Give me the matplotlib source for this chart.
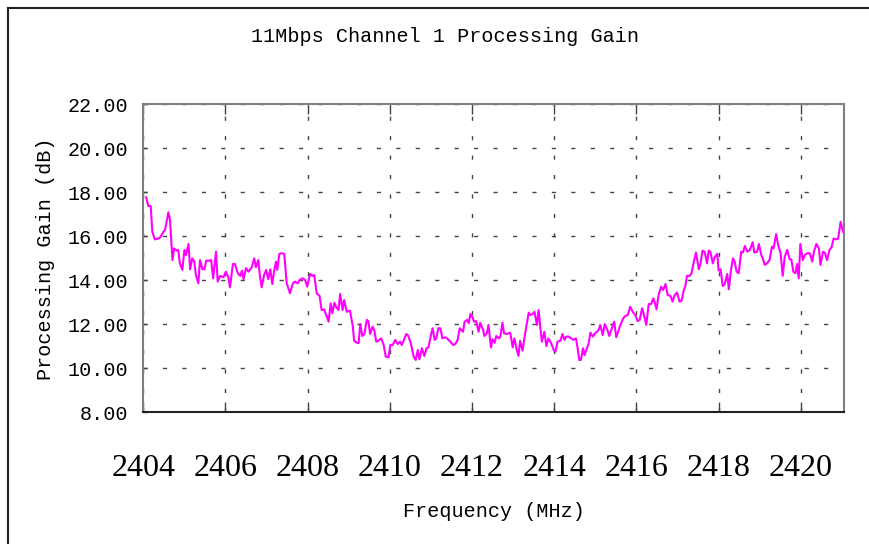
import matplotlib
matplotlib.use("Agg")
import matplotlib.pyplot as plt
from matplotlib.lines import Line2D
from matplotlib.ticker import FormatStrFormatter

# frequency (MHz) and processing gain (dB)
freq = [
    2404.07, 2404.12, 2404.18, 2404.22, 2404.28, 2404.37, 2404.42, 2404.49, 2404.53, 2404.61,
    2404.65, 2404.71, 2404.75, 2404.81, 2404.85, 2404.89, 2404.95, 2405.00, 2405.04, 2405.10,
    2405.14, 2405.19, 2405.24, 2405.28, 2405.34, 2405.38, 2405.44, 2405.49, 2405.53, 2405.60,
    2405.65, 2405.70, 2405.77, 2405.81, 2405.87, 2405.95, 2406.01, 2406.07, 2406.11, 2406.18,
    2406.23, 2406.30, 2406.36, 2406.40, 2406.44, 2406.50, 2406.56, 2406.64, 2406.70, 2406.74,
    2406.80, 2406.84, 2406.88, 2406.94, 2406.99, 2407.04, 2407.09, 2407.14, 2407.18, 2407.23,
    2407.26, 2407.31, 2407.37, 2407.43, 2407.49, 2407.57, 2407.64, 2407.69, 2407.76, 2407.80,
    2407.88, 2407.94, 2407.99, 2408.06, 2408.12, 2408.16, 2408.22, 2408.29, 2408.34, 2408.40,
    2408.47, 2408.51, 2408.56, 2408.60, 2408.65, 2408.69, 2408.75, 2408.79, 2408.85, 2408.89,
    2408.95, 2409.03, 2409.10, 2409.13, 2409.20, 2409.24, 2409.28, 2409.33, 2409.38, 2409.44,
    2409.48, 2409.52, 2409.58, 2409.62, 2409.67, 2409.72, 2409.79, 2409.85, 2409.90, 2409.97,
    2410.01, 2410.07, 2410.13, 2410.19, 2410.25, 2410.29, 2410.35, 2410.40, 2410.45, 2410.51,
    2410.58, 2410.63, 2410.68, 2410.72, 2410.78, 2410.84, 2410.89, 2410.94, 2411.00, 2411.04,
    2411.09, 2411.13, 2411.18, 2411.23, 2411.28, 2411.35, 2411.39, 2411.47, 2411.54, 2411.59,
    2411.65, 2411.70, 2411.74, 2411.78, 2411.82, 2411.88, 2411.92, 2411.96, 2412.01, 2412.05,
    2412.10, 2412.16, 2412.20, 2412.27, 2412.30, 2412.36, 2412.40, 2412.46, 2412.50, 2412.55,
    2412.59, 2412.65, 2412.69, 2412.74, 2412.78, 2412.85, 2412.93, 2412.99, 2413.03, 2413.08,
    2413.13, 2413.17, 2413.23, 2413.28, 2413.32, 2413.38, 2413.42, 2413.47, 2413.52, 2413.58,
    2413.62, 2413.66, 2413.70, 2413.76, 2413.81, 2413.86, 2413.92, 2413.99, 2414.03, 2414.08,
    2414.15, 2414.20, 2414.25, 2414.29, 2414.35, 2414.42, 2414.47, 2414.53, 2414.57, 2414.61,
    2414.65, 2414.70, 2414.74, 2414.78, 2414.84, 2414.88, 2414.94, 2414.98, 2415.04, 2415.08,
    2415.12, 2415.18, 2415.23, 2415.29, 2415.34, 2415.41, 2415.46, 2415.51, 2415.57, 2415.61,
    2415.68, 2415.73, 2415.79, 2415.85, 2415.91, 2415.97, 2416.03, 2416.08, 2416.14, 2416.19,
    2416.24, 2416.30, 2416.36, 2416.41, 2416.44, 2416.49, 2416.54, 2416.60, 2416.65, 2416.71,
    2416.76, 2416.83, 2416.88, 2416.93, 2416.99, 2417.05, 2417.10, 2417.15, 2417.19, 2417.23,
    2417.30, 2417.34, 2417.40, 2417.45, 2417.52, 2417.56, 2417.61, 2417.66, 2417.72, 2417.76,
    2417.80, 2417.86, 2417.91, 2417.97, 2418.00, 2418.05, 2418.10, 2418.15, 2418.21, 2418.25,
    2418.29, 2418.35, 2418.39, 2418.44, 2418.49, 2418.55, 2418.59, 2418.64, 2418.70, 2418.76,
    2418.83, 2418.87, 2418.94, 2418.98, 2419.04, 2419.09, 2419.12, 2419.18, 2419.24, 2419.30,
    2419.34, 2419.40, 2419.45, 2419.51, 2419.56, 2419.61, 2419.67, 2419.73, 2419.77, 2419.82,
    2419.87, 2419.91, 2419.95, 2419.99, 2420.05, 2420.10, 2420.16, 2420.22, 2420.28, 2420.32,
    2420.38, 2420.44, 2420.48, 2420.54, 2420.59, 2420.64, 2420.70, 2420.75, 2420.80, 2420.86,
    2420.91, 2420.97, 2421.03,
]
gain = [
    17.77, 17.38, 17.38, 16.20, 15.86, 15.90, 15.97, 16.20, 16.30, 17.09,
    16.74, 14.92, 15.45, 15.35, 15.38, 14.77, 14.47, 15.38, 15.15, 15.65,
    14.50, 15.00, 14.85, 14.24, 13.86, 14.92, 14.50, 14.50, 14.89, 14.89,
    14.92, 14.09, 15.30, 13.94, 14.20, 14.14, 14.39, 14.14, 13.68, 14.74,
    14.74, 14.32, 14.20, 14.44, 14.05, 14.55, 14.39, 14.59, 15.00, 14.59,
    14.92, 14.17, 13.68, 14.24, 14.47, 14.05, 14.50, 13.83, 14.39, 14.85,
    14.47, 15.20, 15.23, 15.20, 13.86, 13.41, 13.86, 13.94, 13.86, 14.01,
    14.09, 14.01, 13.71, 14.29, 14.20, 14.24, 13.41, 13.29, 12.65, 12.68,
    12.32, 12.12, 12.95, 12.50, 12.98, 12.80, 12.65, 13.38, 12.65, 13.10,
    12.57, 12.62, 11.89, 11.25, 11.16, 11.14, 12.01, 11.47, 11.56, 12.20,
    12.12, 11.56, 11.89, 11.74, 11.21, 11.25, 11.36, 11.06, 10.53, 10.50,
    11.06, 11.06, 11.29, 11.10, 11.21, 11.06, 11.32, 11.56, 11.47, 11.14,
    10.53, 10.38, 10.83, 10.41, 10.91, 10.56, 10.91, 10.95, 11.51, 11.82,
    11.29, 11.36, 11.82, 11.82, 11.36, 11.41, 11.36, 11.21, 11.06, 11.10,
    11.29, 11.82, 11.74, 11.66, 12.12, 12.20, 12.05, 12.47, 12.32, 12.12,
    12.15, 11.66, 12.07, 11.74, 11.47, 11.59, 11.97, 10.95, 11.32, 11.16,
    11.47, 11.36, 11.44, 12.07, 11.59, 11.56, 11.62, 10.95, 11.36, 10.91,
    10.56, 11.25, 10.80, 11.44, 11.89, 12.53, 12.42, 12.47, 12.57, 11.97,
    12.65, 11.89, 11.21, 11.66, 11.01, 11.36, 11.16, 10.83, 10.75, 11.21,
    11.25, 11.56, 11.29, 11.44, 11.44, 11.36, 11.29, 11.36, 10.91, 10.38,
    10.38, 10.91, 10.60, 10.83, 11.14, 11.62, 11.44, 11.56, 11.66, 11.74,
    11.97, 11.51, 12.01, 11.77, 11.47, 11.86, 12.12, 11.41, 11.74, 11.97,
    12.27, 12.38, 12.42, 12.80, 12.57, 12.42, 12.15, 12.20, 12.73, 12.38,
    11.97, 12.92, 12.92, 13.18, 13.03, 12.68, 13.33, 13.71, 13.56, 13.83,
    13.33, 13.29, 13.03, 13.33, 13.44, 13.03, 13.07, 13.53, 13.71, 14.20,
    14.20, 14.32, 14.85, 15.26, 14.50, 14.77, 15.35, 15.30, 14.77, 15.35,
    15.30, 14.77, 15.07, 15.20, 14.44, 14.50, 13.74, 13.83, 14.29, 13.59,
    14.32, 15.00, 14.85, 14.39, 14.32, 15.30, 15.26, 15.56, 15.30, 15.38,
    15.73, 15.26, 15.30, 15.65, 15.15, 14.92, 14.70, 14.77, 14.92, 15.53,
    15.45, 16.10, 15.60, 15.23, 14.20, 15.07, 15.38, 14.95, 14.95, 14.39,
    14.32, 14.74, 14.09, 15.65, 14.92, 15.15, 15.23, 15.23, 14.85, 15.30,
    15.65, 15.45, 14.70, 15.30, 15.23, 14.92, 15.38, 15.50, 15.90, 15.86,
    15.90, 16.66, 16.20,
]

x_ticks = [2404, 2406, 2408, 2410, 2412, 2414, 2416, 2418, 2420]
y_ticks = [8, 10, 12, 14, 16, 18, 20, 22]

mono = "Liberation Mono"

fig = plt.figure(figsize=(8.69, 5.44), dpi=100)
ax = fig.add_axes([0.1649, 0.2421, 0.8067, 0.5662])

ax.plot(freq, gain, color="#ff00ff", lw=1.5)

ax.set_xlim(2404, 2421.06)
ax.set_ylim(8, 22)
ax.set_xticks(x_ticks)
ax.set_yticks(y_ticks)
ax.yaxis.set_major_formatter(FormatStrFormatter("%.2f"))

ax.grid(True, color="#444444", lw=1.0, linestyle=(0, (3, 11)))

ax.tick_params(axis="x", direction="in", length=7, width=1, color="#444444",
               top=True, pad=30)
ax.tick_params(axis="y", direction="in", length=3, width=1, color="#444444", pad=11)
for lab in ax.get_xticklabels():
    lab.set_fontfamily("Liberation Serif")
    lab.set_fontsize(23)
for lab in ax.get_yticklabels():
    lab.set_fontfamily(mono)
    lab.set_fontsize(14.5)

for side in ["left", "top", "right"]:
    ax.spines[side].set_color("#808080")
    ax.spines[side].set_linewidth(1.5)
ax.spines["bottom"].set_color("#222222")
ax.spines["bottom"].set_linewidth(1.5)

ax.set_xlabel("Frequency (MHz)", family=mono, fontsize=14.5, labelpad=14)
ax.set_ylabel("Processing Gain (dB)", family=mono, fontsize=14.5, labelpad=9)
fig.text(0.512, 0.932, "11Mbps Channel 1 Processing Gain", family=mono,
         fontsize=14.5, ha="center", va="center")

# outer frame (only top and left edges fall inside the picture)
fig.add_artist(Line2D([8 / 869, 1.0], [1 - 8 / 544, 1 - 8 / 544],
                      transform=fig.transFigure, color="#222222", lw=1.5))
fig.add_artist(Line2D([8 / 869, 8 / 869], [0.0, 1 - 8 / 544],
                      transform=fig.transFigure, color="#222222", lw=1.5))

fig.savefig("out.png", dpi=100)
